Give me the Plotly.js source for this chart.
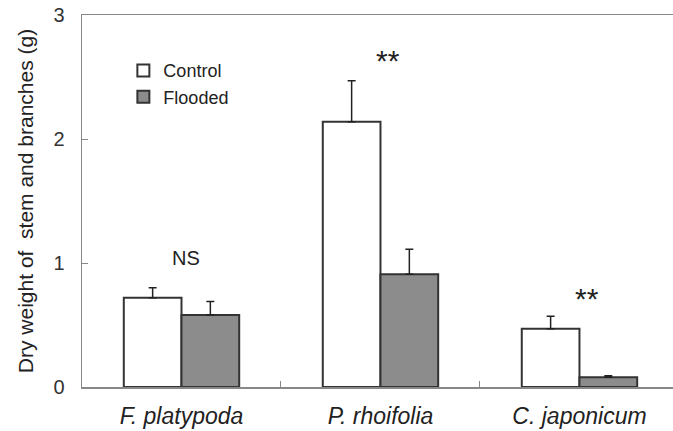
<!DOCTYPE html>
<html><head><meta charset="utf-8">
<script src="https://cdn.plot.ly/plotly-3.0.1.min.js"></script>
<style>html,body{margin:0;padding:0;background:#fff}</style>
</head><body><div id="chart" style="width:673px;height:431px"></div>
<script>
const species = ["F. platypoda", "P. rhoifolia", "C. japonicum"];
const controlMean = [0.72, 2.14, 0.47];
const controlErr = [0.08, 0.33, 0.10];
const floodedMean = [0.58, 0.91, 0.078];
const floodedErr = [0.11, 0.20, 0.012];
const sigLabels = ["NS", "**", "**"];
const sigY = [1.04, 2.63, 0.71];

const tickText = species.map(s => "<i>" + s + "</i>");
const zeros = species.map(() => 0);

const traces = [
  {type: "bar", name: "Control", x: species, y: controlMean,
   marker: {color: "#ffffff", line: {color: "#333333", width: 2}},
   error_y: {type: "data", array: controlErr, arrayminus: zeros, symmetric: false, color: "#222222", thickness: 1.5, width: 4}},
  {type: "bar", name: "Flooded", x: species, y: floodedMean,
   marker: {color: "#8c8c8c", line: {color: "#333333", width: 2}},
   error_y: {type: "data", array: floodedErr, arrayminus: zeros, symmetric: false, color: "#222222", thickness: 1.5, width: 4}}
];

const annotations = species.map((s, i) => ({
  x: s, y: sigY[i], xref: "x", yref: "y", text: sigLabels[i], showarrow: false,
  xshift: i === 0 ? 5 : 8,
  font: {size: i === 0 ? 20 : 30, color: "#222222", family: "Liberation Sans, Arial, sans-serif"}
}));

const layout = {
  width: 673, height: 431,
  margin: {l: 82, r: 0, t: 15, b: 44, pad: 0},
  paper_bgcolor: "#ffffff", plot_bgcolor: "#ffffff",
  font: {family: "Liberation Sans, Arial, sans-serif", color: "#222222", size: 18},
  barmode: "group", bargap: 0.42, bargroupgap: 0,
  showlegend: true,
  legend: {x: 0.07, y: 0.9, xanchor: "left", yanchor: "top", bgcolor: "rgba(0,0,0,0)",
           font: {size: 18, color: "#222222"}, tracegroupgap: 0, itemwidth: 30},
  xaxis: {type: "category", range: [-0.5, 2.47], tickvals: species, ticktext: tickText,
          showline: true, linecolor: "#888888", linewidth: 1.5, mirror: true,
          ticks: "inside", tickson: "boundaries", ticklen: 6, tickcolor: "#888888",
          showgrid: false, tickfont: {size: 23, color: "#222222"}, ticklabelstandoff: 8},
  yaxis: {range: [0, 3], tickvals: [0, 1, 2, 3], ticktext: ["0", "1", "2", "3"],
          showline: true, linecolor: "#888888", linewidth: 1.5, mirror: false,
          ticks: "inside", ticklen: 6, tickcolor: "#888888", showgrid: false, zeroline: false,
          tickfont: {size: 20, color: "#333333"}, ticklabelstandoff: 12,
          title: {text: "Dry weight of  stem and branches (g)", font: {size: 21, color: "#222222"}, standoff: 14}},
  annotations: annotations
};

Plotly.newPlot("chart", traces, layout, {displayModeBar: false, staticPlot: true});
</script>
</body></html>
